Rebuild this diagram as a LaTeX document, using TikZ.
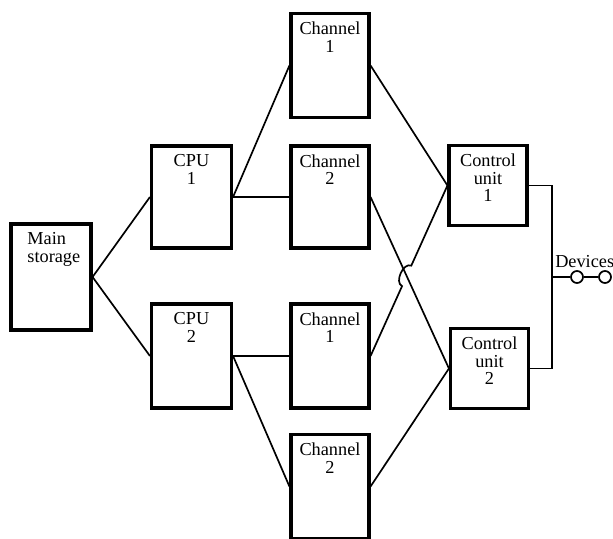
\documentclass[tikz,border=0pt]{standalone}
\usepackage{fontspec}
\setmainfont{Liberation Serif}
\usetikzlibrary{calc}

\begin{document}
\begin{tikzpicture}[x=0.025cm, y=-0.025cm,
    box/.style={draw, line width=2.2pt, minimum width=1.95cm, minimum height=2.6cm, inner sep=0pt},
    cubox/.style={box, minimum height=2cm},
    tag/.style={anchor=north, align=center, inner sep=0pt, yshift=-7pt, font=\fontsize{13}{12.5}\selectfont},
    link/.style={line width=1.2pt},
    port/.style={circle, draw, line width=1.2pt, minimum size=0.3cm, inner sep=0pt}]
    \useasboundingbox (0,0) rectangle (613,539);
    \node[box, minimum width=2cm, minimum height=2.65cm,
          label={[tag, align=left, xshift=2pt]north:{Main\\storage}}] (ms) at (51,277) {};
    \node[box, minimum width=2cm, minimum height=2.55cm,
          label={[tag]north:{CPU\\1}}] (cpu1) at (191.5,197) {};
    \node[box, minimum width=2cm,
          label={[tag]north:{CPU\\2}}] (cpu2) at (191.5,356) {};
    \node[box, label={[tag]north:{Channel\\1}}] (ch1a) at (330,65.5) {};
    \node[box, minimum height=2.55cm, label={[tag]north:{Channel\\2}}] (ch2a) at (330,197) {};
    \node[box, label={[tag]north:{Channel\\1}}] (ch1b) at (330,356) {};
    \node[box, label={[tag]north:{Channel\\2}}] (ch2b) at (330,486.5) {};
    \node[cubox, label={[tag]north:{Control\\unit\\1}}] (cu1) at (488,185.5) {};
    \node[cubox, label={[tag]north:{Control\\unit\\2}}] (cu2) at (489.5,368.5) {};
    \coordinate (tap) at (552,277);
    \node[port] (d1) at (577,277) {};
    \node[port] (d2) at (605,277) {};
    \node[anchor=base west, inner sep=0pt, font=\fontsize{13}{13}\selectfont] (devs) at (555,267) {Devices};
    \draw[link] (ms.east) -- (cpu1.west);
    \draw[link] (ms.east) -- (cpu2.west);
    \draw[link] (cpu1.east) -- (ch1a.west);
    \draw[link] (cpu1.east) -- (ch2a.west);
    \draw[link] (cpu2.east) -- (ch1b.west);
    \draw[link] (cpu2.east) -- (ch2b.west);
    \draw[link] (ch1a.east) -- (cu1.west);
    \draw[link] (ch2a.east) -- (cu2.west);
    \draw[link] (ch2b.east) -- (cu2.west);
    % hop over the crossing line
    \coordinate (hopa) at ($(ch1b.east)!0.41!(cu1.west)$);
    \coordinate (hopb) at ($(ch1b.east)!0.53!(cu1.west)$);
    \draw[link] (ch1b.east) -- (hopa) to[bend left=90] (hopb) -- (cu1.west);
    \draw[link] (cu1.east) -| (tap) |- (cu2.east);
    \draw[link] (tap) -- (d1) -- (d2);
\end{tikzpicture}
\end{document}
